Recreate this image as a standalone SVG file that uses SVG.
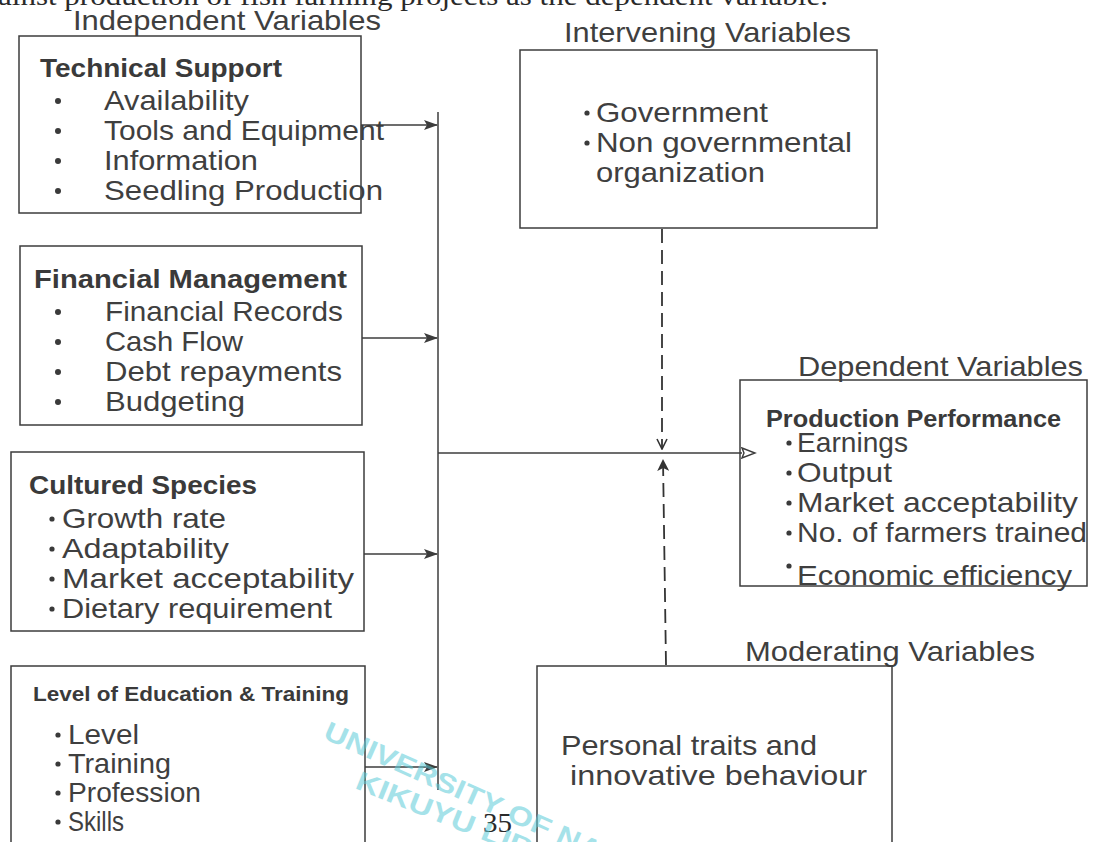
<svg xmlns="http://www.w3.org/2000/svg" width="1102" height="842" viewBox="0 0 1102 842">
<style>
.box{fill:none;stroke:#3c3c3c;stroke-width:1.5}
.t{font-family:"Liberation Sans",Arial,sans-serif;fill:#3f3f3f;font-size:28px}
.h{font-family:"Liberation Sans",Arial,sans-serif;fill:#3a3a3a;font-size:26px;font-weight:bold}
.hs{font-family:"Liberation Sans",Arial,sans-serif;fill:#3a3a3a;font-size:21px;font-weight:bold}
.ph{font-family:"Liberation Sans",Arial,sans-serif;fill:#3a3a3a;font-size:23px;font-weight:bold}
.b{fill:#3a3a3a}
.ln{fill:none;stroke:#3c3c3c;stroke-width:1.5}
.dash{fill:none;stroke:#333;stroke-width:1.8;stroke-dasharray:14,7}
.serif{font-family:"Liberation Serif","Times New Roman",serif;fill:#2a2a2a;font-size:27px}
.stamp{font-family:"Liberation Sans",Arial,sans-serif;fill:#5ccbd8;font-weight:bold;font-size:27px;opacity:0.55}
</style>
<defs>
<marker id="ah" markerWidth="14" markerHeight="10" refX="13" refY="5" orient="auto" markerUnits="userSpaceOnUse">
<path d="M0,0 L14,5 L0,10 L3,5 Z" fill="#3c3c3c"/>
</marker>
<marker id="oh" markerWidth="16" markerHeight="12" refX="1" refY="6" orient="auto" markerUnits="userSpaceOnUse">
<path d="M1,1 L14,6 L1,11 L3,6 Z" fill="#fff" stroke="#3c3c3c" stroke-width="1.4"/>
</marker>
<marker id="vh" markerWidth="12" markerHeight="12" refX="11" refY="6" orient="auto" markerUnits="userSpaceOnUse">
<path d="M1,1 L11,6 L1,11" fill="none" stroke="#333" stroke-width="1.6"/>
</marker>
<marker id="uh" markerWidth="13" markerHeight="12" refX="12" refY="6" orient="auto" markerUnits="userSpaceOnUse">
<path d="M0,0 L12,6 L0,12 L3,6 Z" fill="#333"/>
</marker>
</defs>

<text class="serif" x="-2" y="5" textLength="830" lengthAdjust="spacingAndGlyphs">ainst production of fish farming projects as the dependent variable.</text>

<text class="t" x="73" y="30" textLength="308" lengthAdjust="spacingAndGlyphs">Independent Variables</text>
<text class="t" x="564" y="42" textLength="287" lengthAdjust="spacingAndGlyphs">Intervening Variables</text>
<text class="t" x="798" y="376" textLength="285" lengthAdjust="spacingAndGlyphs">Dependent Variables</text>
<text class="t" x="745" y="661" textLength="290" lengthAdjust="spacingAndGlyphs">Moderating Variables</text>

<g id="technical-support">
<rect class="box" x="19" y="36" width="342" height="177"/>
<text class="h" x="40" y="77" textLength="242" lengthAdjust="spacingAndGlyphs">Technical Support</text>
<circle class="b" cx="58" cy="101" r="3"/><text class="t" x="104" y="110" textLength="145" lengthAdjust="spacingAndGlyphs">Availability</text>
<circle class="b" cx="58" cy="131" r="3"/><text class="t" x="104" y="140" textLength="280" lengthAdjust="spacingAndGlyphs">Tools and Equipment</text>
<circle class="b" cx="58" cy="161" r="3"/><text class="t" x="104" y="170" textLength="154" lengthAdjust="spacingAndGlyphs">Information</text>
<circle class="b" cx="58" cy="191" r="3"/><text class="t" x="104" y="200" textLength="279" lengthAdjust="spacingAndGlyphs">Seedling  Production</text>
</g>

<g id="financial-management">
<rect class="box" x="20" y="246" width="342" height="179"/>
<text class="h" x="34" y="288" textLength="313" lengthAdjust="spacingAndGlyphs">Financial Management</text>
<circle class="b" cx="58" cy="312" r="3"/><text class="t" x="105" y="321" textLength="238" lengthAdjust="spacingAndGlyphs">Financial Records</text>
<circle class="b" cx="58" cy="342" r="3"/><text class="t" x="105" y="351" textLength="138" lengthAdjust="spacingAndGlyphs">Cash Flow</text>
<circle class="b" cx="58" cy="372" r="3"/><text class="t" x="105" y="381" textLength="237" lengthAdjust="spacingAndGlyphs">Debt repayments</text>
<circle class="b" cx="58" cy="402" r="3"/><text class="t" x="105" y="411" textLength="140" lengthAdjust="spacingAndGlyphs">Budgeting</text>
</g>

<g id="cultured-species">
<rect class="box" x="11" y="452" width="353" height="179"/>
<text class="h" x="29" y="494" textLength="228" lengthAdjust="spacingAndGlyphs">Cultured Species</text>
<circle class="b" cx="52" cy="519" r="2.6"/><text class="t" x="62" y="528" textLength="164" lengthAdjust="spacingAndGlyphs">Growth rate</text>
<circle class="b" cx="52" cy="549" r="2.6"/><text class="t" x="62" y="558" textLength="167" lengthAdjust="spacingAndGlyphs">Adaptability</text>
<circle class="b" cx="52" cy="579" r="2.6"/><text class="t" x="62" y="588" textLength="292" lengthAdjust="spacingAndGlyphs">Market  acceptability</text>
<circle class="b" cx="52" cy="609" r="2.6"/><text class="t" x="62" y="618" textLength="270" lengthAdjust="spacingAndGlyphs">Dietary requirement</text>
</g>

<g id="education-training">
<path class="box" d="M11,842 V666 H365 V842"/>
<text class="hs" x="33" y="701" textLength="316" lengthAdjust="spacingAndGlyphs">Level of Education &amp; Training</text>
<circle class="b" cx="58" cy="735" r="2.6"/><text class="t" x="68" y="744" textLength="71" lengthAdjust="spacingAndGlyphs">Level</text>
<circle class="b" cx="58" cy="764" r="2.6"/><text class="t" x="68" y="773" textLength="103" lengthAdjust="spacingAndGlyphs">Training</text>
<circle class="b" cx="58" cy="793" r="2.6"/><text class="t" x="68" y="802" textLength="133" lengthAdjust="spacingAndGlyphs">Profession</text>
<circle class="b" cx="58" cy="822" r="2.6"/><text class="t" x="68" y="831" textLength="56" lengthAdjust="spacingAndGlyphs">Skills</text>
</g>

<g id="intervening">
<rect class="box" x="520" y="50" width="357" height="178"/>
<circle class="b" cx="587" cy="113" r="2.6"/><text class="t" x="596" y="122" textLength="172" lengthAdjust="spacingAndGlyphs">Government</text>
<circle class="b" cx="587" cy="143" r="2.6"/><text class="t" x="596" y="152" textLength="256" lengthAdjust="spacingAndGlyphs">Non governmental</text>
<text class="t" x="596" y="182" textLength="169" lengthAdjust="spacingAndGlyphs">organization</text>
</g>

<g id="dependent">
<rect class="box" x="740" y="380" width="347" height="206"/>
<text class="ph" x="766" y="427" textLength="295" lengthAdjust="spacingAndGlyphs">Production Performance</text>
<circle class="b" cx="789" cy="443" r="2.6"/><text class="t" x="797" y="452" textLength="111" lengthAdjust="spacingAndGlyphs">Earnings</text>
<circle class="b" cx="789" cy="473" r="2.6"/><text class="t" x="797" y="482" textLength="95" lengthAdjust="spacingAndGlyphs">Output</text>
<circle class="b" cx="789" cy="503" r="2.6"/><text class="t" x="797" y="512" textLength="281" lengthAdjust="spacingAndGlyphs">Market acceptability</text>
<circle class="b" cx="789" cy="533" r="2.6"/><text class="t" x="797" y="542" textLength="290" lengthAdjust="spacingAndGlyphs">No. of farmers trained</text>
<circle class="b" cx="789" cy="566" r="2.6"/><text class="t" x="797" y="585" textLength="275" lengthAdjust="spacingAndGlyphs">Economic efficiency</text>
</g>

<g id="moderating">
<path class="box" d="M537,842 V666 H892 V842"/>
<text class="t" x="561" y="755" textLength="256" lengthAdjust="spacingAndGlyphs">Personal traits  and</text>
<text class="t" x="570" y="785" textLength="297" lengthAdjust="spacingAndGlyphs">innovative  behaviour</text>
</g>

<g id="connectors">
<line class="ln" x1="438" y1="112" x2="438" y2="790"/>
<line class="ln" x1="361" y1="125" x2="437" y2="125" marker-end="url(#ah)"/>
<line class="ln" x1="362" y1="338" x2="437" y2="338" marker-end="url(#ah)"/>
<line class="ln" x1="364" y1="554" x2="437" y2="554" marker-end="url(#ah)"/>
<line class="ln" x1="365" y1="767" x2="437" y2="767" marker-end="url(#ah)"/>
<line class="ln" x1="438" y1="453" x2="742" y2="453" marker-end="url(#oh)"/>
<line class="dash" x1="662" y1="229" x2="662" y2="449" marker-end="url(#vh)"/>
<line class="dash" x1="666" y1="665" x2="663" y2="459" marker-end="url(#uh)"/>
</g>

<text class="serif" x="483" y="832" textLength="29" lengthAdjust="spacingAndGlyphs">35</text>

<g id="stamp">
<text class="stamp" x="322" y="738" transform="rotate(24 322 738)" textLength="390" lengthAdjust="spacingAndGlyphs">UNIVERSITY OF NAIROBI</text>
<text class="stamp" x="354" y="788" transform="rotate(22 354 788)" textLength="280" lengthAdjust="spacingAndGlyphs">KIKUYU LIBRARY</text>
</g>
</svg>
